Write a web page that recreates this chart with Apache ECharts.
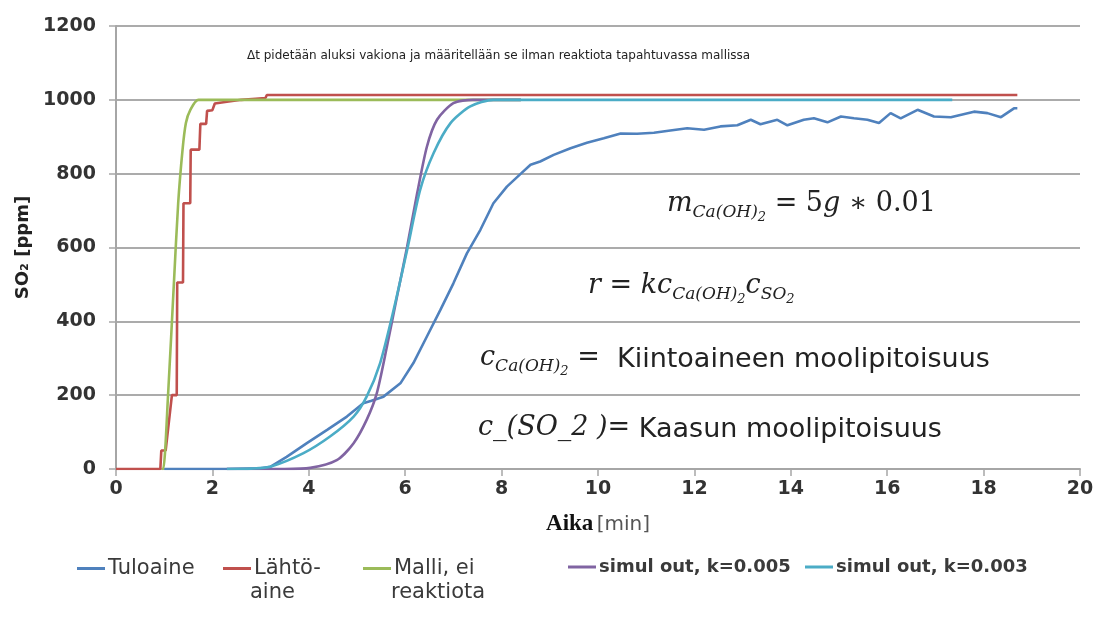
<!DOCTYPE html>
<html>
<head>
<meta charset="utf-8">
<script src="https://cdn.jsdelivr.net/npm/echarts@6/dist/echarts.min.js"></script>
<style>
html, body { margin: 0; padding: 0; background: #fff; }
#chart { width: 1099px; height: 630px; }
</style>
</head>
<body>
<div id="chart"></div>
<script>
// values: [time (min), SO2 (ppm)]
var tuloaine = [[1.0, 0], [2.3, 0], [3.0, 2], [3.2, 6], [3.54, 33], [3.96, 70], [4.38, 106], [4.79, 142],
    [5.13, 178], [5.3, 185], [5.55, 196], [5.9, 232], [6.17, 287], [6.45, 359], [6.73, 431], [7.0, 503],
    [7.28, 584], [7.56, 648], [7.83, 720], [8.11, 765], [8.4, 800], [8.6, 824], [8.8, 833], [9.08, 851],
    [9.43, 869], [9.77, 884], [10.12, 896], [10.47, 909], [10.81, 908], [11.16, 911], [11.5, 917],
    [11.85, 923], [12.2, 919], [12.54, 928], [12.89, 931], [13.17, 946], [13.37, 934], [13.72, 946],
    [13.93, 931], [14.27, 946], [14.48, 950], [14.76, 939], [15.04, 955], [15.31, 950], [15.59, 946],
    [15.83, 937], [16.07, 964], [16.28, 950], [16.63, 973], [16.97, 955], [17.32, 953], [17.8, 968],
    [18.08, 964], [18.36, 953], [18.63, 977], [18.7, 977]];
var lahtoaine = [[0, 0], [0.92, 0], [0.94, 50], [1.03, 50], [1.16, 200], [1.26, 200], [1.27, 505],
    [1.39, 505], [1.4, 720], [1.54, 720], [1.55, 865], [1.73, 865], [1.75, 935], [1.87, 935], [1.89, 970],
    [2.0, 972], [2.05, 990], [2.3, 995], [2.6, 1000], [2.9, 1003], [3.1, 1005], [3.13, 1013], [18.7, 1013]];
var malli = [[0.95, 0], [0.98, 0], [1.08, 200], [1.2, 500], [1.29, 720], [1.38, 864], [1.45, 937],
    [1.54, 972], [1.71, 1000], [8.4, 1000]];
var simul005 = [[2.3, 0], [3.5, 0], [4.03, 3], [4.58, 24], [4.93, 70], [5.2, 133], [5.41, 205],
    [5.62, 331], [5.83, 467], [6.04, 602], [6.25, 748], [6.45, 873], [6.66, 946], [7.0, 991], [7.4, 1000],
    [8.4, 1000]];
var simul003 = [[2.3, 0], [2.8, 1], [3.2, 6], [3.89, 43], [4.44, 88], [4.93, 142], [5.2, 196], [5.48, 287],
    [5.76, 431], [6.04, 593], [6.31, 756], [6.59, 856], [6.94, 937], [7.35, 982], [7.83, 1000], [17.35, 1000]];

var names = ['Tuloaine', 'Lähtöaine', 'Malli, ei reaktiota', 'simul out, k=0.005', 'simul out, k=0.003'];
var legendText = ['Tuloaine', 'Lähtö-', 'Malli, ei', 'simul out, k=0.005', 'simul out, k=0.003'];
var legendLeft = [72, 218, 358, 563, 800];
var colors = ['#4f81bd', '#c0504d', '#9bbb59', '#8064a2', '#4bacc6'];

var sans = 'DejaVu Sans';
var serif = 'DejaVu Serif';

var legends = names.map(function (n, i) {
    return {
        data: [n],
        left: legendLeft[i],
        top: 553,
        itemWidth: 28,
        itemHeight: 3,
        icon: 'rect',
        formatter: function () { return legendText[i]; },
        textStyle: {
            fontFamily: sans,
            fontSize: i > 2 ? 18 : 21,
            fontWeight: i > 2 ? 'bold' : 'normal',
            color: '#3a3a3a',
            padding: [0, 0, 0, -2]
        },
        selectedMode: false
    };
});

function line(name, data, idx, smooth) {
    return {
        name: name,
        type: 'line',
        data: data,
        showSymbol: false,
        symbol: 'none',
        smooth: smooth ? 0.25 : false,
        lineStyle: { color: colors[idx], width: 2.6 },
        itemStyle: { color: colors[idx] }
    };
}

// rich text styles for the formulas
var mathRich = {
    m: { fontFamily: serif, fontStyle: 'italic', fontSize: 27, lineHeight: 44, verticalAlign: 'top' },
    o: { fontFamily: serif, fontSize: 27, lineHeight: 44, verticalAlign: 'top' },
    s: { fontFamily: serif, fontStyle: 'italic', fontSize: 17, lineHeight: 18, verticalAlign: 'top', padding: [14, 0, 0, 0] },
    ss: { fontFamily: serif, fontStyle: 'italic', fontSize: 13, lineHeight: 14, verticalAlign: 'top', padding: [21, 0, 0, 0] },
    t: { fontFamily: sans, fontSize: 27, lineHeight: 44, verticalAlign: 'top', padding: [2, 0, 0, 0] }
};

var myChart = echarts.init(document.getElementById('chart'));
var option = {
    backgroundColor: '#ffffff',
    animation: false,
    grid: { left: 116, right: 19, top: 26, bottom: 161 },
    legend: legends,
    xAxis: {
        type: 'value',
        min: 0,
        max: 20,
        interval: 2,
        name: '{a|Aika} {b|[min]}',
        nameLocation: 'middle',
        nameGap: 44,
        nameTextStyle: {
            rich: {
                a: { fontFamily: 'Liberation Serif', fontWeight: 'bold', fontSize: 23, color: '#111' },
                b: { fontFamily: sans, fontSize: 20, color: '#555' }
            }
        },
        axisLine: { lineStyle: { color: '#a6a6a6', width: 2 } },
        axisTick: { show: true, length: 7, lineStyle: { color: '#a6a6a6', width: 1.5 } },
        axisLabel: { margin: 11, fontFamily: sans, fontWeight: 'bold', fontSize: 19, color: '#333' },
        splitLine: { show: false }
    },
    yAxis: {
        type: 'value',
        min: 0,
        max: 1200,
        interval: 200,
        name: 'SO₂ [ppm]',
        nameLocation: 'middle',
        nameGap: 64,
        nameTextStyle: { fontFamily: sans, fontWeight: 'bold', fontSize: 18, color: '#222' },
        axisLine: { show: true, lineStyle: { color: '#a6a6a6', width: 2 } },
        axisTick: { show: true, length: 7, lineStyle: { color: '#a6a6a6', width: 1.5 } },
        axisLabel: {
            margin: 20, fontFamily: sans, fontWeight: 'bold', fontSize: 19, color: '#333',
            formatter: function (v) { return String(v); }
        },
        splitLine: { lineStyle: { color: '#ababab', width: 2 } }
    },
    graphic: [
        { type: 'text', left: 247, top: 50, style: { text: 'Δt pidetään aluksi vakiona ja määritellään se ilman reaktiota tapahtuvassa mallissa', font: '12px "DejaVu Sans"', fill: '#222' } },
        { type: 'text', left: 667, top: 190, style: { text: '{m|m}{s|Ca(OH)}{ss|2}{o| = 5}{m|g}{o| ∗ 0.01}', rich: mathRich, fill: '#222' } },
        { type: 'text', left: 588, top: 272, style: { text: '{m|r}{o| = }{m|kc}{s|Ca(OH)}{ss|2}{m|c}{s|SO}{ss|2}', rich: mathRich, fill: '#222' } },
        { type: 'text', left: 480, top: 344, style: { text: '{m|c}{s|Ca(OH)}{ss|2}{o| = }{t| Kiintoaineen moolipitoisuus}', rich: mathRich, fill: '#222' } },
        { type: 'text', left: 478, top: 414, style: { text: '{m|c_(SO_2 )}{o|=}{t| Kaasun moolipitoisuus}', rich: mathRich, fill: '#222' } },
        { type: 'text', left: 250, top: 582, style: { text: 'aine', font: '21px "DejaVu Sans"', fill: '#3a3a3a' } },
        { type: 'text', left: 391, top: 582, style: { text: 'reaktiota', font: '21px "DejaVu Sans"', fill: '#3a3a3a' } }
    ],
    series: [
        line(names[0], tuloaine, 0, false),
        line(names[1], lahtoaine, 1, false),
        line(names[2], malli, 2, true),
        line(names[3], simul005, 3, true),
        line(names[4], simul003, 4, true)
    ]
};
myChart.setOption(option);

window.addEventListener('resize', function () {
    myChart.resize();
});
</script>
</body>
</html>
